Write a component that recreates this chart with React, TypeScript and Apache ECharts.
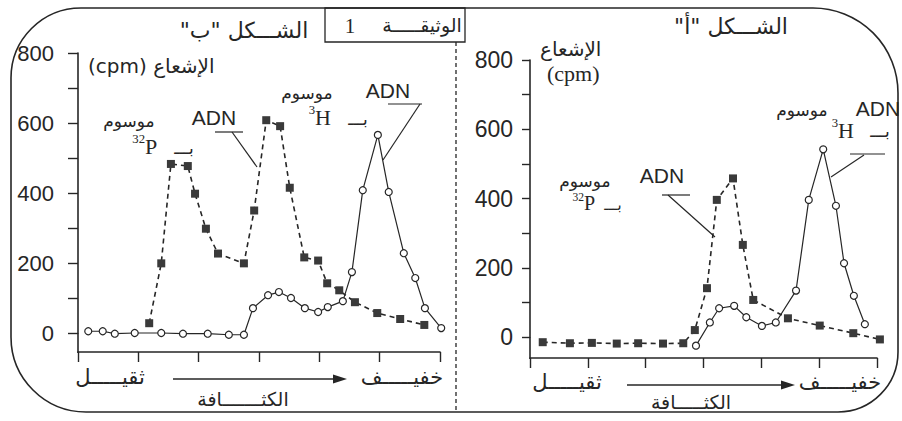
import React, { useEffect, useRef } from "react";
import * as echarts from "echarts";

// ---- Figure "ب" (left panel) ----
const bDensity3H = [0.17, 0.41, 0.61, 0.94, 1.38, 1.74, 2.15, 2.5, 2.75, 2.9, 3.15, 3.33, 3.53, 3.76, 3.98, 4.14, 4.39, 4.54, 4.72, 4.97, 5.15, 5.4, 5.59, 5.75, 6.02];
const bCpm3H = [5, 5, -2, 0, 0, -2, -2, -5, -5, 71, 108, 117, 100, 71, 60, 74, 91, 174, 408, 566, 403, 228, 157, 71, 14];
const bDensity32P = [1.18, 1.38, 1.54, 1.82, 1.94, 2.12, 2.32, 2.75, 2.92, 3.12, 3.35, 3.51, 3.75, 3.98, 4.13, 4.33, 4.59, 4.96, 5.34, 5.74];
const bCpm32P = [28, 199, 483, 477, 398, 298, 227, 199, 350, 608, 591, 415, 216, 207, 142, 122, 88, 57, 40, 23];

// ---- Figure "أ" (right panel) ----
const aDensity32P = [0.22, 0.69, 1.07, 1.5, 1.87, 2.3, 2.65, 2.85, 3.06, 3.23, 3.51, 3.68, 3.86, 4.46, 5.01, 5.59, 6.05];
const aCpm32P = [-15, -18, -17, -19, -18, -19, -18, 20, 141, 396, 458, 266, 107, 54, 33, 11, -7];
const aDensity3H = [2.87, 3.11, 3.27, 3.53, 3.74, 4.01, 4.25, 4.6, 4.82, 5.07, 5.29, 5.43, 5.6, 5.79];
const aCpm3H = [-25, 42, 83, 90, 57, 32, 42, 134, 396, 542, 379, 213, 119, 37];

// ---- axes ----
const xTickValues = [1, 2, 3, 4, 5, 6];
const yLabelValues = [0, 200, 400, 600, 800];

const INK = "#262626";
const AR = "DejaVu Sans";
const SANS = "Liberation Sans";
const SERIF = "Liberation Serif";

const zip = (xs: number[], ys: number[]) => xs.map((x, i) => [x, ys[i]]);

function txt(x: number, y: number, text: string, size: number, family: string, align = "center") {
  return {
    type: "text",
    x,
    y,
    style: { text, fontSize: size, fontFamily: family, fill: INK, align, verticalAlign: "middle" },
  };
}
function seg(x1: number, y1: number, x2: number, y2: number, w = 1.2, dash?: number[]) {
  return {
    type: "line",
    shape: { x1, y1, x2, y2 },
    style: { stroke: INK, lineWidth: w, lineDash: dash },
  };
}
function arrow(x1: number, x2: number, y: number) {
  return [
    seg(x1, y, x2 - 12, y, 1.4),
    {
      type: "polygon",
      shape: { points: [[x2 - 14, y - 4.5], [x2, y], [x2 - 14, y + 4.5]] },
      style: { fill: INK },
    },
  ];
}
// isotope label: small mass number + element symbol
function isotope(x: number, y: number, mass: string, sym: string, size: number) {
  return [
    txt(x, y - size * 0.3, mass, size * 0.58, SERIF, "right"),
    txt(x, y, sym, size, SERIF, "left"),
  ];
}

function xAxisCfg(grid: number, offset: number) {
  return {
    type: "value",
    gridIndex: grid,
    position: "bottom",
    min: 0,
    max: 6,
    offset,
    axisLine: { show: true, onZero: false, lineStyle: { color: INK, width: 1.6 } },
    axisTick: { show: true, length: 10, lineStyle: { color: INK, width: 1.4 } },
    axisLabel: { show: false },
    splitLine: { show: false },
  };
}
function yAxisCfg(grid: number, size: number, margin: number, tickLen: number) {
  return {
    type: "value",
    gridIndex: grid,
    min: 0,
    max: 800,
    interval: 100,
    axisLine: { show: true, onZero: false, lineStyle: { color: INK, width: 1.6 } },
    axisTick: { show: true, length: tickLen, lineStyle: { color: INK, width: 1.4 } },
    axisLabel: {
      margin,
      fontSize: size,
      fontFamily: SANS,
      color: INK,
      formatter: (v: number) => (yLabelValues.includes(v) ? String(v) : ""),
    },
    splitLine: { show: false },
  };
}
function h3Series(axis: number, data: number[][]) {
  return {
    type: "line",
    xAxisIndex: axis,
    yAxisIndex: axis,
    data,
    clip: false,
    symbol: "circle",
    symbolSize: 7,
    itemStyle: { color: "#ffffff", borderColor: INK, borderWidth: 1.2 },
    lineStyle: { color: INK, width: 1.2, type: "solid" },
    z: 3,
  };
}
function p32Series(axis: number, data: number[][]) {
  return {
    type: "line",
    xAxisIndex: axis,
    yAxisIndex: axis,
    data,
    clip: false,
    symbol: "rect",
    symbolSize: 8,
    itemStyle: { color: "#3a3a3a", borderColor: "#3a3a3a", borderWidth: 0 },
    lineStyle: { color: INK, width: 1.6, type: [5, 4] },
    z: 4,
  };
}

export default function App() {
  const ref = useRef<HTMLDivElement>(null);
  useEffect(() => {
    if (!ref.current) return;
    const chart = echarts.init(ref.current, undefined, { renderer: "svg" });
    const option: any = {
      animation: false,
      backgroundColor: "#ffffff",
      grid: [
        { left: 78, top: 53, width: 362, height: 280 },
        { left: 530, top: 60, width: 347, height: 277 },
      ],
      xAxis: [xAxisCfg(0, 19), xAxisCfg(1, 21)],
      yAxis: [yAxisCfg(0, 22, 24, 10), yAxisCfg(1, 23, 17, 8)],
      series: [
        h3Series(0, zip(bDensity3H, bCpm3H)),
        p32Series(0, zip(bDensity32P, bCpm32P)),
        h3Series(1, zip(aDensity3H, aCpm3H)),
        p32Series(1, zip(aDensity32P, aCpm32P)),
      ],
      graphic: [
        {
          type: "rect",
          shape: { x: 11, y: 8, width: 887, height: 404, r: [70, 85, 60, 75] },
          style: { fill: "none", stroke: INK, lineWidth: 1.6 },
          z: 1,
        },
        seg(456, 42, 456, 412, 1.3, [4, 3]),
        // y-axis lines continued down to the shifted x axes
        seg(78, 333, 78, 353, 1.6),
        seg(530, 337, 530, 359, 1.6),
        {
          type: "rect",
          shape: { x: 325, y: 8, width: 140, height: 34 },
          style: { fill: "#ffffff", stroke: INK, lineWidth: 1.3 },
        },
        txt(350, 26, "1", 21, SERIF),
        txt(422, 25, "الوثيقـــــة", 19, AR),
        // titles
        txt(244, 30, "\u200Fالشـــكل \"ب\"\u200F", 22, AR),
        txt(731, 26, "\u200Fالشـــكل \"أ\"\u200F", 22, AR),
        // y-axis titles
        txt(88, 66, "(cpm) الإشعاع", 20, AR, "left"),
        txt(540, 49, "الإشعاع", 20, AR, "left"),
        txt(547, 73, "(cpm)", 22, SERIF, "left"),
        // left annotations (32P)
        txt(129, 121, "موسوم", 17, AR),
        txt(214, 117, "ADN", 21, SANS),
        ...isotope(145, 146, "32", "P", 22),
        txt(184, 148, "بـــ", 17, AR),
        seg(215, 132, 243, 132),
        seg(232, 132, 257, 167),
        // left annotations (3H)
        txt(307, 93, "موسوم", 17, AR),
        txt(388, 90, "ADN", 21, SANS),
        ...isotope(315, 117, "3", "H", 22),
        txt(358, 119, "بـــ", 17, AR),
        seg(388, 104, 422, 104),
        seg(420, 104, 383, 160),
        // right annotations (3H)
        txt(802, 110, "موسوم", 17, AR),
        txt(878, 108, "ADN", 21, SANS),
        ...isotope(838, 130, "3", "H", 22),
        txt(880, 131, "بـــ", 17, AR),
        seg(850, 154, 885, 154),
        seg(864, 155, 831, 177),
        // right annotations (32P)
        txt(585, 181, "موسوم", 17, AR),
        txt(662, 175, "ADN", 21, SANS),
        ...isotope(584, 203, "32", "P", 20),
        txt(613, 205, "بـــ", 15, AR),
        seg(662, 195, 690, 195),
        seg(668, 195, 715, 237),
        // bottom labels left
        txt(110, 377, "ثقيـــــل", 21, AR),
        ...arrow(173, 347, 379),
        txt(402, 377, "خفيـــــف", 21, AR),
        txt(243, 399, "الكثـــــــافة", 19, AR),
        // bottom labels right
        txt(567, 382, "ثقيـــــل", 21, AR),
        ...arrow(627, 795, 385),
        txt(840, 382, "خفيـــــف", 21, AR),
        txt(691, 402, "الكثـــــافة", 19, AR),
      ],
    };
    chart.setOption(option);
    return () => chart.dispose();
  }, []);
  return (
    <div
      ref={ref}
      style={{ position: "fixed", left: 0, top: 0, width: 902, height: 421, background: "#fff" }}
    />
  );
}
